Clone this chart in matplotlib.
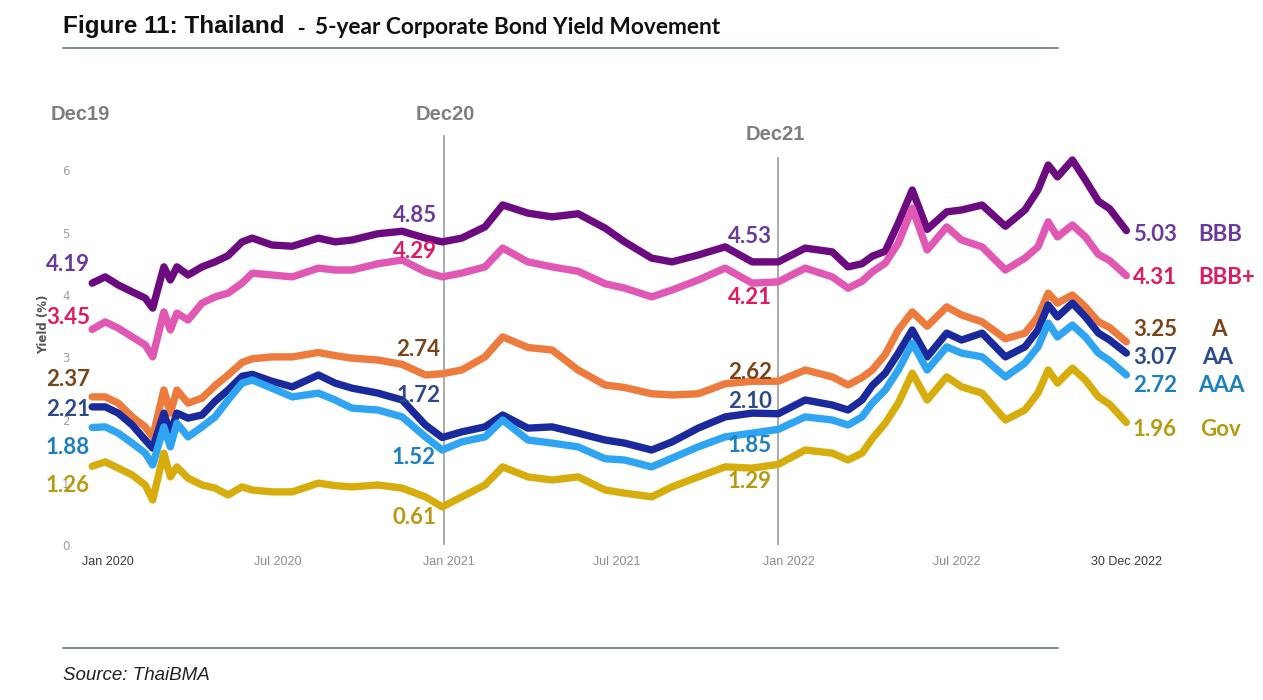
import matplotlib
matplotlib.use('Agg')
import matplotlib.pyplot as plt
import pandas as pd
from matplotlib.lines import Line2D

W, H = 1263, 700

# Data (5-year yields, %)
dates = ['2019-12-15', '2019-12-29', '2020-01-12', '2020-01-27', '2020-02-10', '2020-02-18',
         '2020-03-01', '2020-03-08', '2020-03-15', '2020-03-27', '2020-04-11', '2020-04-25',
         '2020-05-09', '2020-05-24', '2020-06-04', '2020-06-25', '2020-07-17', '2020-08-14',
         '2020-09-01', '2020-09-19', '2020-10-17', '2020-11-12', '2020-12-07', '2020-12-25',
         '2021-01-15', '2021-02-09', '2021-02-28', '2021-03-27', '2021-04-22', '2021-05-20',
         '2021-06-18', '2021-07-09', '2021-08-07', '2021-08-29', '2021-09-26', '2021-10-25',
         '2021-11-23', '2021-12-21', '2022-01-19', '2022-02-17', '2022-03-06', '2022-03-21',
         '2022-04-01', '2022-04-15', '2022-04-29', '2022-05-14', '2022-05-30', '2022-06-20',
         '2022-07-06', '2022-07-28', '2022-08-22', '2022-09-12', '2022-09-26', '2022-10-07',
         '2022-10-17', '2022-11-02', '2022-11-16', '2022-11-30', '2022-12-12', '2022-12-30']

bbb = [4.19, 4.29, 4.16, 4.05, 3.95, 3.79, 4.45, 4.24, 4.45, 4.32, 4.45, 4.53,
       4.63, 4.85, 4.91, 4.80, 4.78, 4.91, 4.85, 4.88, 4.98, 5.02, 4.91, 4.85,
       4.91, 5.09, 5.44, 5.31, 5.25, 5.30, 5.07, 4.85, 4.59, 4.53, 4.64, 4.77,
       4.53, 4.53, 4.75, 4.69, 4.45, 4.50, 4.62, 4.70, 5.15, 5.68, 5.05, 5.33,
       5.36, 5.44, 5.10, 5.36, 5.68, 6.08, 5.89, 6.16, 5.84, 5.50, 5.38, 5.03]

bbb_plus = [3.45, 3.57, 3.47, 3.33, 3.20, 3.01, 3.73, 3.44, 3.71, 3.60, 3.87, 3.97,
            4.03, 4.19, 4.35, 4.32, 4.29, 4.43, 4.40, 4.40, 4.50, 4.56, 4.37, 4.29,
            4.35, 4.45, 4.75, 4.53, 4.45, 4.38, 4.18, 4.11, 3.97, 4.08, 4.24, 4.43,
            4.19, 4.21, 4.43, 4.29, 4.11, 4.22, 4.37, 4.51, 4.83, 5.39, 4.72, 5.09,
            4.88, 4.77, 4.40, 4.59, 4.77, 5.17, 4.93, 5.12, 4.93, 4.65, 4.55, 4.31]

a = [2.37, 2.37, 2.27, 2.05, 1.89, 1.73, 2.48, 2.11, 2.48, 2.27, 2.35, 2.55,
     2.72, 2.92, 2.98, 3.01, 3.01, 3.08, 3.03, 2.99, 2.96, 2.89, 2.72, 2.74,
     2.80, 3.01, 3.33, 3.16, 3.12, 2.80, 2.56, 2.52, 2.42, 2.40, 2.42, 2.58,
     2.62, 2.62, 2.80, 2.69, 2.56, 2.68, 2.80, 3.05, 3.44, 3.73, 3.50, 3.81,
     3.68, 3.57, 3.30, 3.39, 3.65, 4.03, 3.87, 4.00, 3.81, 3.57, 3.48, 3.25]

aa = [2.21, 2.21, 2.11, 1.92, 1.68, 1.55, 2.11, 1.79, 2.11, 2.03, 2.08, 2.30,
      2.48, 2.70, 2.73, 2.62, 2.53, 2.72, 2.59, 2.51, 2.43, 2.32, 1.92, 1.72,
      1.81, 1.89, 2.08, 1.87, 1.89, 1.79, 1.68, 1.63, 1.52, 1.65, 1.87, 2.05,
      2.11, 2.10, 2.32, 2.24, 2.16, 2.32, 2.55, 2.75, 3.07, 3.44, 3.01, 3.39,
      3.28, 3.39, 3.01, 3.17, 3.44, 3.84, 3.65, 3.87, 3.65, 3.39, 3.28, 3.07]

aaa = [1.88, 1.89, 1.79, 1.63, 1.47, 1.28, 1.89, 1.57, 1.95, 1.73, 1.89, 2.05,
       2.32, 2.59, 2.64, 2.51, 2.37, 2.43, 2.32, 2.19, 2.16, 2.05, 1.73, 1.52,
       1.65, 1.73, 2.00, 1.68, 1.63, 1.57, 1.38, 1.36, 1.25, 1.39, 1.57, 1.73,
       1.79, 1.85, 2.05, 2.00, 1.92, 2.05, 2.27, 2.48, 2.80, 3.23, 2.80, 3.17,
       3.07, 3.01, 2.69, 2.91, 3.17, 3.55, 3.33, 3.52, 3.33, 3.07, 2.95, 2.72]

gov = [1.26, 1.33, 1.23, 1.12, 0.96, 0.72, 1.47, 1.09, 1.25, 1.07, 0.96, 0.91,
       0.80, 0.93, 0.88, 0.85, 0.85, 0.99, 0.95, 0.93, 0.96, 0.91, 0.77, 0.61,
       0.77, 0.96, 1.25, 1.09, 1.04, 1.09, 0.88, 0.83, 0.77, 0.93, 1.09, 1.25,
       1.23, 1.29, 1.52, 1.47, 1.36, 1.47, 1.70, 1.95, 2.27, 2.75, 2.32, 2.69,
       2.53, 2.43, 2.00, 2.16, 2.43, 2.80, 2.59, 2.83, 2.64, 2.37, 2.25, 1.96]

names = ['BBB', 'BBB+', 'A', 'AA', 'AAA', 'Gov']
start_vals = [4.19, 3.45, 2.37, 2.21, 1.88, 1.26]
dec20_vals = [4.85, 4.29, 2.74, 1.72, 1.52, 0.61]
dec21_vals = [4.53, 4.21, 2.62, 2.10, 1.85, 1.29]
end_vals = [5.03, 4.31, 3.25, 3.07, 2.72, 1.96]

xtick_dates = ['2020-01-01', '2020-07-01', '2021-01-01', '2021-07-01',
               '2022-01-01', '2022-07-01', '2022-12-30']
xtick_labels = ['Jan 2020', 'Jul 2020', 'Jan 2021', 'Jul 2021',
                'Jan 2022', 'Jul 2022', '30 Dec 2022']

# line colours and label colours
line_colors = ['#6c0a80', '#e157b4', '#ee7b3e', '#1a2a9c', '#2ea4f3', '#d6ad0c']
text_colors = ['#6b3a9c', '#e01a62', '#7a4318', '#2d4a8c', '#1c7fc0', '#b89a12']

x = pd.to_datetime(dates)


def fx(px):
    return px / W


def fy(py):
    return 1 - py / H


def px_to_date(px):
    return pd.Timestamp('2020-01-01') + pd.Timedelta(days=(px - 108) * 365.25 / 340)


def py_to_val(py):
    return (545 - py) / 62.5


fig = plt.figure(figsize=(W / 100, H / 100), dpi=100)
fig.patch.set_facecolor('white')

ax = fig.add_axes([fx(78), fy(549), fx(1200) - fx(78), fy(100) - fy(549)])
ax.set_xlim(px_to_date(78), px_to_date(1200))
ax.set_ylim(py_to_val(549), py_to_val(100))
for s in ax.spines.values():
    s.set_visible(False)

# vertical year-end markers
ax.vlines(px_to_date(444), 0, py_to_val(135), color='#ababab', lw=1.4, zorder=1)
ax.vlines(px_to_date(778), 0, py_to_val(157), color='#ababab', lw=1.4, zorder=1)

values = [bbb, bbb_plus, a, aa, aaa, gov]
order = [2, 3, 4, 5, 0, 1]
for i in order:
    ax.plot(x, values[i], color=line_colors[i], lw=5.3, solid_joinstyle='round',
            solid_capstyle='round', zorder=2 + order.index(i))

ax.set_yticks(range(7))
ax.set_yticklabels([str(v) for v in range(7)])
ax.tick_params(axis='y', length=0, pad=6, labelsize=8.5, labelcolor='#a0a0a0')
ax.set_xticks(pd.to_datetime(xtick_dates))
ax.set_xticklabels(xtick_labels, family=['Liberation Sans', 'DejaVu Sans'])
ax.tick_params(axis='x', length=0, pad=5, labelsize=9, labelcolor='#8c8c8c')
for lbl in ax.get_xticklabels():
    if lbl.get_text() in ('Jan 2020', '30 Dec 2022'):
        lbl.set_color('#3a3a3a')

fig.text(fx(44), fy(324), 'Yield (%)', rotation=90, ha='center', va='center',
         fontsize=8.5, color='#555555', fontweight='bold')

# period headers
hdr = dict(fontsize=14.5, fontweight='bold', color='#7f7f7f', ha='center', va='center',
           family=['Liberation Sans', 'DejaVu Sans'])
fig.text(fx(80), fy(115), 'Dec19', **hdr)
fig.text(fx(445), fy(115), 'Dec20', **hdr)
fig.text(fx(775), fy(135), 'Dec21', **hdr)

# value labels
lab = dict(fontsize=16, fontweight='bold', family=['Lato', 'DejaVu Sans'], va='center')
start_y = [264, 317, 380, 410, 447, 485]
dec20_y = [215, 252, 350, 395, 458, 518]
dec20_x = [415, 415, 418, 419, 414, 414]
dec21_y = [237, 298, 373, 402, 445, 482]
end_y = [235, 277, 330, 357, 385, 430]
name_x = [1198, 1198, 1211, 1202, 1198, 1200]
for i in range(6):
    fig.text(fx(90), fy(start_y[i]), f'{start_vals[i]:.2f}', ha='right',
             color=text_colors[i], **lab)
    fig.text(fx(dec20_x[i]), fy(dec20_y[i]), f'{dec20_vals[i]:.2f}', ha='center',
             color=text_colors[i], **lab)
    fig.text(fx(750), fy(dec21_y[i]), f'{dec21_vals[i]:.2f}', ha='center',
             color=text_colors[i], **lab)
    fig.text(fx(1133), fy(end_y[i]), f'{end_vals[i]:.2f}', ha='left',
             color=text_colors[i], **lab)
    fig.text(fx(name_x[i]), fy(end_y[i]), names[i], ha='left',
             color=text_colors[i], **lab)

# title, rules and source
fig.text(fx(63), fy(27), 'Figure 11: Thailand', fontsize=17.5, fontweight='bold',
         family=['Liberation Sans', 'DejaVu Sans'], va='center', ha='left', color='#111111')
fig.text(fx(297), fy(28), '-', fontsize=16, fontweight='bold',
         family=['Liberation Sans', 'DejaVu Sans'], va='center', ha='left', color='#111111')
fig.text(fx(315), fy(28), '5-year Corporate Bond Yield Movement', fontsize=16.3,
         fontweight='bold', family=['Lato', 'DejaVu Sans'], va='center', ha='left',
         color='#111111')
fig.add_artist(Line2D([fx(63), fx(1058)], [fy(48), fy(48)], color='#627588', lw=1.2))
fig.add_artist(Line2D([fx(63), fx(1058)], [fy(648), fy(648)], color='#627588', lw=1.2))
fig.text(fx(63), fy(676), 'Source: ThaiBMA', fontsize=13.5, style='italic',
         family=['Liberation Sans', 'DejaVu Sans'], va='center', ha='left', color='#222222')

fig.savefig('out.png', dpi=100, facecolor='white')
